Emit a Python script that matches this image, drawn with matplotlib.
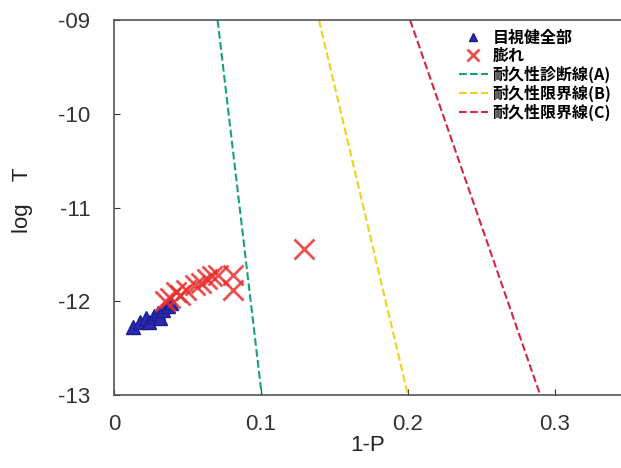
import matplotlib.pyplot as plt
from matplotlib.ticker import FuncFormatter

plt.rcParams['font.family'] = ['Liberation Sans', 'Noto Sans CJK JP']

# 目視健全部 (blue triangles)
blue_x = [0.013, 0.018, 0.022, 0.024, 0.027, 0.030, 0.031, 0.033, 0.037, 0.039]
blue_y = [-12.27, -12.22, -12.18, -12.22, -12.16, -12.13, -12.18, -12.09, -12.05, -12.02]

# 膨れ (red crosses)
red_x = [0.035, 0.038, 0.042, 0.045, 0.049, 0.055, 0.059, 0.063, 0.067, 0.071, 0.081, 0.081, 0.129]
red_y = [-12.00, -11.97, -11.90, -11.93, -11.88, -11.83, -11.81, -11.76, -11.73, -11.72, -11.72, -11.88, -11.44]

# 耐久性 lines: (x at logT=-9, x at logT=-13)
line_y = [-9, -13]
line_a = [0.0705, 0.1005]
line_b = [0.1395, 0.2]
line_c = [0.2015, 0.29]

fig = plt.figure(figsize=(6.21, 4.68), dpi=100)
ax = fig.add_axes([0.1836, 0.156, 0.8164, 0.801])

ax.plot(blue_x, blue_y, linestyle='none', marker='^', markersize=10,
        color='#2a2ab0', markeredgecolor='#1c1c90', label='目視健全部')
ax.plot(red_x, red_y, linestyle='none', marker='x', markersize=14,
        markeredgewidth=2, color='#e83030', alpha=0.85, label='膨れ')
ax.plot(line_a, line_y, '--', color='#1a9e80', lw=1.5, label='耐久性診断線(A)')
ax.plot(line_b, line_y, '--', color='#f0d020', lw=1.5, label='耐久性限界線(B)')
ax.plot(line_c, line_y, '--', color='#d02840', lw=1.5, label='耐久性限界線(C)')

ax.set_xlim(0, 0.345)
ax.set_ylim(-13, -9)
ax.set_xticks([0, 0.1, 0.2, 0.3])
ax.set_yticks([-13, -12, -11, -10, -9])
ax.xaxis.set_major_formatter(FuncFormatter(lambda v, p: '0' if v == 0 else f'{v:.1f}'))
ax.yaxis.set_major_formatter(FuncFormatter(lambda v, p: f'-{abs(int(round(v))):02d}'))
ax.tick_params(direction='in', labelsize=16, colors='#333333', length=4)
ax.tick_params(axis='x', pad=14)
ax.tick_params(axis='y', pad=17)
for s in ax.spines.values():
    s.set_color('#555555')
    s.set_linewidth(1.2)
ax.spines['right'].set_visible(False)

ax.set_xlabel('1-P', fontsize=16, color='#222222', labelpad=0)
ax.set_ylabel('log　T', fontsize=16, color='#222222')
ax.yaxis.set_label_coords(-0.16, 0.52)

leg = ax.legend(loc='upper right', bbox_to_anchor=(1.0, 1.0), frameon=False,
                handlelength=1.8, handletextpad=0.3, labelspacing=0.12, markerscale=0.6,
                borderaxespad=0.2,
                prop={'family': ['Noto Sans CJK JP', 'DejaVu Sans'], 'weight': 'bold', 'size': 11.5})

fig.savefig('out.png', dpi=100)
